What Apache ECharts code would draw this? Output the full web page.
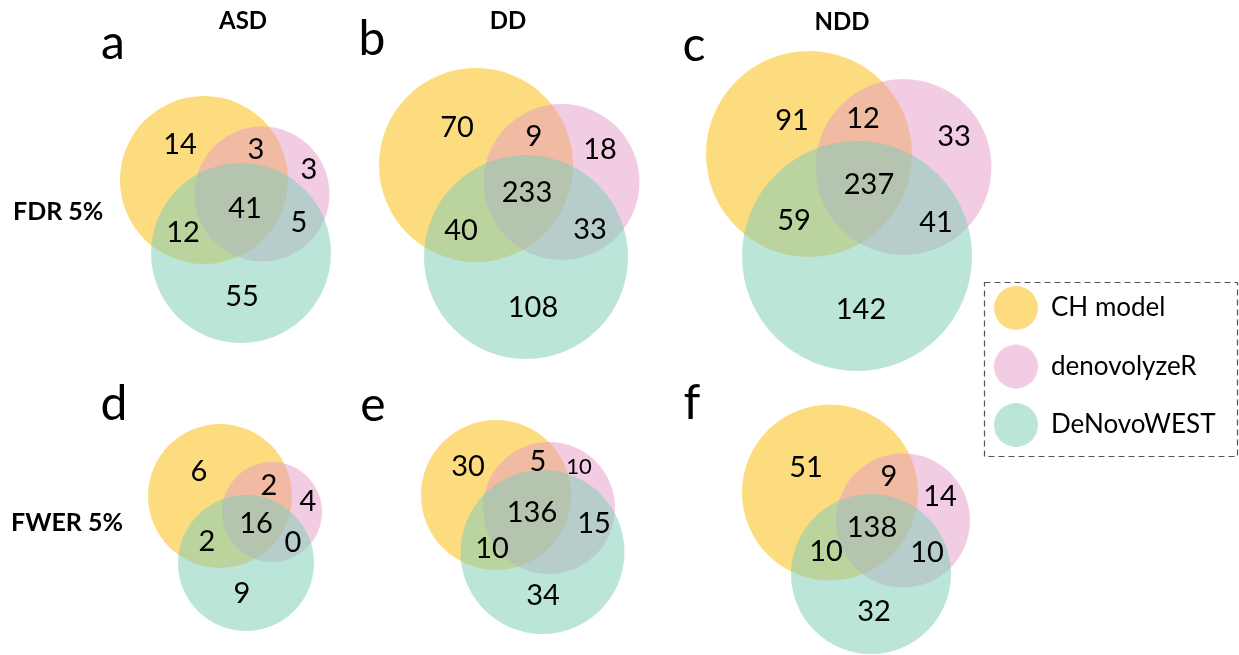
<!DOCTYPE html>
<html>
<head>
<meta charset="utf-8">
<style>
  html, body { margin: 0; padding: 0; background: #fff; }
  #chart { width: 1239px; height: 655px; }
</style>
<script src="https://cdn.jsdelivr.net/npm/echarts@6/dist/echarts.min.js"></script>
</head>
<body>
<div id="chart"></div>
<script>
// Gene sets found by each method
const setNames = ['CH model', 'denovolyzeR', 'DeNovoWEST'];

// Region order of every count list:
// CH only, CH∩denovolyzeR, denovolyzeR only, CH∩DeNovoWEST, all three, denovolyzeR∩DeNovoWEST, DeNovoWEST only
const regionNames = ['CH model only', 'CH model & denovolyzeR', 'denovolyzeR only',
  'CH model & DeNovoWEST', 'all three', 'denovolyzeR & DeNovoWEST', 'DeNovoWEST only'];

// FDR 5%
const asdFdr = [14, 3, 3, 12, 41, 5, 55];
const ddFdr = [70, 9, 18, 40, 233, 33, 108];
const nddFdr = [91, 12, 33, 59, 237, 41, 142];
// FWER 5%
const asdFwer = [6, 2, 4, 2, 16, 0, 9];
const ddFwer = [30, 5, 10, 10, 136, 15, 34];
const nddFwer = [51, 9, 14, 10, 138, 10, 32];

const columnTitles = ['ASD', 'DD', 'NDD'];
const rowTitles = ['FDR 5%', 'FWER 5%'];
const panelLetters = ['a', 'b', 'c', 'd', 'e', 'f'];

// Fill colours (semi-transparent so overlaps blend)
const setColors = ['rgba(252,197,43,0.6)', 'rgba(229,153,197,0.5)', 'rgba(126,205,185,0.52)'];

// Layout of each panel on the figure plane: circles [cx, cy, r] per set,
// count-label anchors per region, and the panel letter anchor.
const panelLayout = [
  { counts: asdFdr, letter: [113, 44],
    circles: [[204, 180, 84], [262, 194, 67.5], [241, 253, 90]],
    labels: [[180, 145], [256, 150], [309, 170], [183, 233], [245, 209], [299, 223], [242, 297]] },
  { counts: ddFdr, letter: [372, 40],
    circles: [[476, 165, 97], [561.5, 182, 78], [526, 257, 102]],
    labels: [[457, 128], [534, 137], [600, 150], [461, 231], [527, 193], [590, 230], [533, 308]] },
  { counts: nddFdr, letter: [694, 46],
    circles: [[809, 154, 103], [903.5, 167, 88], [857, 256, 115]],
    labels: [[792, 121], [863, 119], [954, 137], [794, 221], [869, 185], [936, 223], [861, 310]] },
  { counts: asdFwer, letter: [114, 405],
    circles: [[220, 496, 72], [272, 512, 50], [246, 563, 68]],
    labels: [[199, 472], [269, 486], [308, 502], [207, 542], [256, 524], [293, 543], [242, 594]] },
  { counts: ddFwer, letter: [373, 406], small: [2],
    circles: [[496, 495, 75], [549, 508, 66], [542.5, 552, 82]],
    labels: [[468, 467], [538, 462], [579, 467], [492, 549], [532, 513], [594, 524], [543, 596]] },
  { counts: nddFwer, letter: [692, 404],
    circles: [[830, 492.5, 88], [903, 520.5, 67], [871, 574, 80]],
    labels: [[806, 468], [889, 477], [940, 497], [826, 552], [872, 528], [927, 553], [874, 612]] }
];
const columnTitlePos = [[243, 21], [508, 21], [842, 22]];
const rowTitlePos = [[13, 212], [11, 523]];

const FONT = 'Lato, "Open Sans", sans-serif';

const chart = echarts.init(document.getElementById('chart'), null, { renderer: 'canvas' });

// One series per method: its circle in every panel
const circleSeries = setNames.map((name, s) => ({
  type: 'custom',
  name: name,
  coordinateSystem: 'cartesian2d',
  itemStyle: { color: setColors[s] },
  silent: true,
  data: panelLayout.map(p => p.circles[s]),
  renderItem: function (params, api) {
    const c = api.coord([api.value(0), api.value(1)]);
    const r = api.size([api.value(2), api.value(2)])[0];
    return {
      type: 'circle',
      shape: { cx: c[0], cy: c[1], r: r },
      style: { fill: api.visual('color'), stroke: null }
    };
  }
}));

// Region counts
const countData = [];
panelLayout.forEach((p, pi) => {
  p.counts.forEach((v, ri) => {
    const small = p.small && p.small.indexOf(ri) >= 0 ? 1 : 0;
    countData.push([p.labels[ri][0], p.labels[ri][1], v, small]);
  });
});

const countSeries = {
  type: 'custom',
  name: 'counts',
  coordinateSystem: 'cartesian2d',
  silent: true,
  z: 5,
  data: countData,
  renderItem: function (params, api) {
    const c = api.coord([api.value(0), api.value(1)]);
    const small = api.value(3) === 1;
    return {
      type: 'text',
      x: c[0],
      y: c[1],
      style: {
        text: String(api.value(2)),
        fontSize: small ? 22 : 29,
        fontFamily: FONT,
        fill: '#000',
        align: 'center',
        verticalAlign: 'middle'
      }
    };
  }
};

const graphics = [];
panelLayout.forEach((p, i) => {
  graphics.push({
    type: 'text', x: p.letter[0], y: p.letter[1],
    style: { text: panelLetters[i], fontSize: 48, fontFamily: FONT, fill: '#000',
             align: 'center', verticalAlign: 'middle' }
  });
});
columnTitles.forEach((t, i) => {
  graphics.push({
    type: 'text', x: columnTitlePos[i][0], y: columnTitlePos[i][1],
    style: { text: t, fontSize: 24, fontWeight: 'bold', fontFamily: FONT, fill: '#000',
             align: 'center', verticalAlign: 'middle' }
  });
});
rowTitles.forEach((t, i) => {
  graphics.push({
    type: 'text', x: rowTitlePos[i][0], y: rowTitlePos[i][1],
    style: { text: t, fontSize: 25, fontWeight: 'bold', fontFamily: FONT, fill: '#000',
             align: 'left', verticalAlign: 'middle' }
  });
});
// Dashed frame around the legend
graphics.push({
  type: 'rect', shape: { x: 984.5, y: 282.5, width: 253, height: 174 },
  style: { fill: null, stroke: '#555', lineWidth: 1.2, lineDash: [6, 4] }
});

chart.setOption({
  animation: false,
  backgroundColor: '#fff',
  grid: { left: 0, right: 0, top: 0, bottom: 0 },
  xAxis: { type: 'value', min: 0, max: 1239, show: false },
  yAxis: { type: 'value', min: 0, max: 655, inverse: true, show: false },
  legend: {
    data: setNames,
    orient: 'vertical',
    left: 994,
    top: 286,
    icon: 'circle',
    itemWidth: 44,
    itemHeight: 44,
    itemGap: 14.5,
    padding: 0,
    selectedMode: false,
    textStyle: { fontSize: 26, fontFamily: FONT, color: '#000', padding: [0, 0, 0, 8] }
  },
  graphic: graphics,
  series: circleSeries.concat([countSeries])
});
</script>
</body>
</html>
